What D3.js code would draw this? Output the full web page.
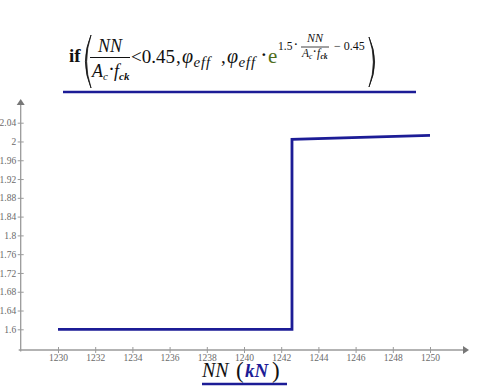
<!DOCTYPE html>
<html>
<head>
<meta charset="utf-8">
<script src="https://cdn.jsdelivr.net/npm/d3@7"></script>
<style>
  html, body { margin: 0; padding: 0; background: #fff; }
  svg { display: block; }
  text { font-family: "Liberation Serif", "DejaVu Serif", serif; }
</style>
</head>
<body>
<div id="chart"></div>
<script>
// données
const nnValues = [1230, 1242.58, 1242.58, 1250];
const phiValues = [1.6, 1.6, 2.0046, 2.013];
const xTicks = [1230, 1232, 1234, 1236, 1238, 1240, 1242, 1244, 1246, 1248, 1250];
const yTicks = [1.6, 1.64, 1.68, 1.72, 1.76, 1.8, 1.84, 1.88, 1.92, 1.96, 2, 2.04];

const width = 488, height = 391;
const navy = '#1c1c96';
const axisGrey = '#9a9a9a';

const svg = d3.select('#chart').append('svg')
    .attr('width', width)
    .attr('height', height);

// Scales
const x = d3.scaleLinear().domain([1230, 1250]).range([58, 430]);
const y = d3.scaleLinear().domain([1.6, 2.04]).range([329.3, 122.7]);

const originX = 20.7, originY = 350;

// Axes
const gx = svg.append('g')
    .attr('transform', `translate(0,${originY})`)
    .call(d3.axisBottom(x).tickValues(xTicks).tickSize(3).tickFormat(d3.format('d')));
gx.select('.domain').remove();
gx.selectAll('.tick line').attr('y1', -3).attr('stroke', axisGrey);
gx.selectAll('.tick text')
    .attr('y', 4)
    .attr('fill', '#6a6a6a')
    .style('font-family', '"Liberation Serif", serif')
    .style('font-size', '9.5px');

const gy = svg.append('g')
    .attr('transform', `translate(${originX},0)`)
    .call(d3.axisLeft(y).tickValues(yTicks).tickSize(3).tickFormat(d => d3.format('')(+d.toFixed(2))));
gy.select('.domain').remove();
gy.selectAll('.tick line').attr('x1', 3).attr('x2', -3).attr('stroke', axisGrey);
gy.selectAll('.tick text')
    .attr('x', -4.5)
    .attr('fill', '#6a6a6a')
    .style('font-family', '"Liberation Serif", serif')
    .style('font-size', '9.5px');

// lignes d'axes avec flèches
svg.append('line')
    .attr('x1', originX - 2).attr('x2', 463)
    .attr('y1', originY).attr('y2', originY)
    .attr('stroke', axisGrey).attr('stroke-width', 1.3);
svg.append('path')
    .attr('d', `M463,${originY - 4} L469,${originY} L463,${originY + 4} Z`)
    .attr('fill', '#777');
svg.append('line')
    .attr('x1', originX).attr('x2', originX)
    .attr('y1', originY + 1.5).attr('y2', 105)
    .attr('stroke', axisGrey).attr('stroke-width', 1.3);
svg.append('path')
    .attr('d', `M${originX - 4},105 L${originX},99 L${originX + 4},105 Z`)
    .attr('fill', '#777');

// Courbe
const pts = nnValues.map((v, i) => [v, phiValues[i]]);
svg.append('path')
    .datum(pts)
    .attr('fill', 'none')
    .attr('stroke', navy)
    .attr('stroke-width', 2.8)
    .attr('stroke-linejoin', 'miter')
    .attr('d', d3.line().x(d => x(d[0])).y(d => y(d[1])));

// Formule (titre)
const f = svg.append('g');
function txt(xp, yp, s, size, opts = {}) {
    return f.append('text')
        .attr('x', xp).attr('y', yp)
        .attr('text-anchor', opts.anchor || 'start')
        .attr('font-size', size)
        .attr('font-style', opts.italic ? 'italic' : 'normal')
        .attr('font-weight', opts.bold ? 'bold' : 'normal')
        .attr('fill', opts.fill || '#111')
        .text(s);
}
function paren(xp, top, bottom, left) {
    const mid = (top + bottom) / 2;
    const dx = left ? -7 : 7;
    f.append('path')
        .attr('d', `M${xp},${top} Q${xp + dx * 1.6},${mid} ${xp},${bottom} Q${xp + dx * 1.25},${mid} ${xp},${top} Z`)
        .attr('fill', '#111').attr('stroke', '#111').attr('stroke-width', 0.8);
}
function phiEff(xp, yp) {
    txt(xp, yp, 'φ', 20, { italic: true });
    txt(xp + 11.5, yp + 3.5, 'eff', 15, { italic: true }).attr('letter-spacing', 0.8);
}

txt(69, 62, 'if', 19, { bold: true });
paren(91, 35, 88, true);
txt(110, 52, 'NN', 18, { italic: true, anchor: 'middle' });
f.append('line').attr('x1', 90).attr('x2', 130).attr('y1', 57.5).attr('y2', 57.5)
    .attr('stroke', '#111').attr('stroke-width', 1.1);
txt(92, 77, 'A', 18, { italic: true });
txt(103, 80, 'c', 11, { italic: true });
txt(109, 74, '·', 15, { bold: true });
txt(114, 77, 'f', 18, { italic: true });
txt(119, 80, 'ck', 11, { italic: true, bold: true });
txt(131, 63, '<0.45', 19);
txt(176, 63, ',', 19);
phiEff(182, 63);
txt(221, 63, ',', 19);
phiEff(227, 63);
txt(261, 60, '·', 17, { bold: true });
txt(268, 63, 'e', 21, { fill: '#4f6e1c' });
// exposant
txt(278, 50, '1.5', 11.5);
txt(294, 48, '·', 11, { bold: true });
txt(315, 42, 'NN', 12, { italic: true, anchor: 'middle' });
f.append('line').attr('x1', 301).attr('x2', 329).attr('y1', 47).attr('y2', 47)
    .attr('stroke', '#111').attr('stroke-width', 0.8);
txt(302, 57, 'A', 11.5, { italic: true });
txt(309, 59, 'c', 7.5, { italic: true });
txt(313, 55, '·', 10, { bold: true });
txt(317, 57, 'f', 11.5, { italic: true });
txt(320.5, 59, 'ck', 7.5, { italic: true, bold: true });
txt(334, 50, '− 0.45', 12);
paren(369, 37, 87, false);
f.append('line').attr('x1', 63).attr('x2', 416).attr('y1', 92).attr('y2', 92)
    .attr('stroke', navy).attr('stroke-width', 2.6);

// titre de l'axe x
const lab = svg.append('g');
lab.append('text').attr('x', 202).attr('y', 377)
    .attr('font-size', 20).attr('font-style', 'italic').attr('fill', '#111').text('NN');
lab.append('text').attr('x', 236).attr('y', 378)
    .attr('font-size', 23).attr('fill', '#111').text('(');
lab.append('text').attr('x', 245).attr('y', 377)
    .attr('font-size', 19).attr('font-style', 'italic').attr('font-weight', 'bold')
    .attr('fill', navy).text('kN');
lab.append('text').attr('x', 272).attr('y', 378)
    .attr('font-size', 23).attr('fill', '#111').text(')');
lab.append('line').attr('x1', 202).attr('x2', 287).attr('y1', 384).attr('y2', 384)
    .attr('stroke', navy).attr('stroke-width', 2.6);
</script>
</body>
</html>
